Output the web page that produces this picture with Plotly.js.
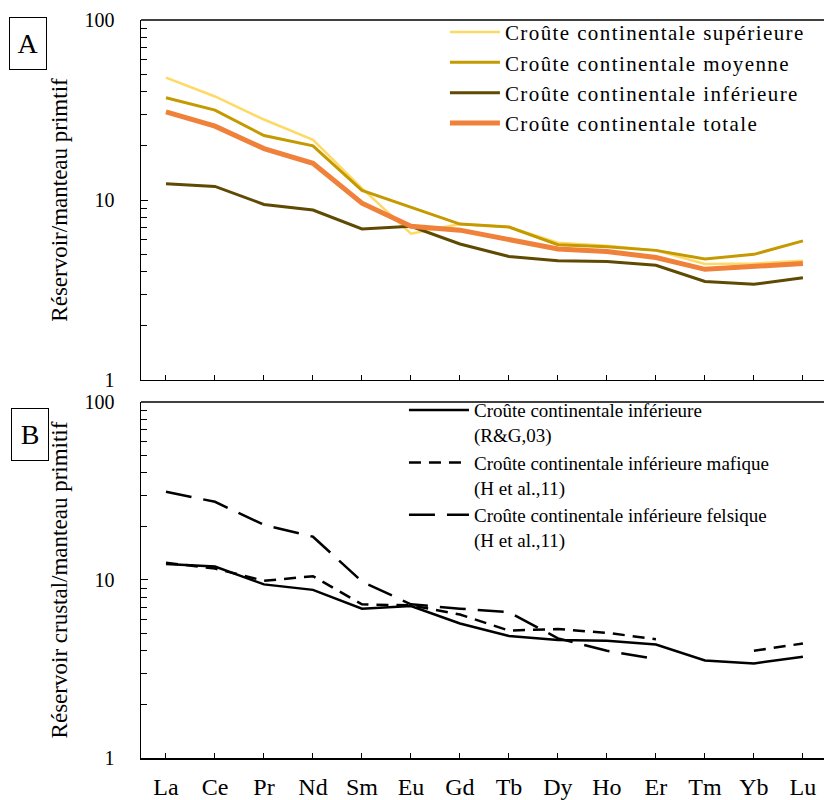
<!DOCTYPE html>
<html>
<head>
<meta charset="utf-8">
<script src="https://cdn.plot.ly/plotly-3.0.1.min.js"></script>
<style>
html,body{margin:0;padding:0;background:#fff;}
.legendtext{letter-spacing:1.4px;}
</style>
</head>
<body>
<div id="chart" style="width:824px;height:800px;"></div>
<script>
// Elements (x categories)
const elements = ["La","Ce","Pr","Nd","Sm","Eu","Gd","Tb","Dy","Ho","Er","Tm","Yb","Lu"];

// Panel A: reservoir / primitive mantle
const upperCrust  = [47.8, 37.6, 28.0, 21.6, 11.6, 6.5, 7.35, 7.07, 5.79, 5.57, 5.25, 4.41, 4.44, 4.59];
const middleCrust = [37.0, 31.6, 22.8, 20.0, 11.3, 9.1, 7.35, 7.07, 5.64, 5.50, 5.25, 4.70, 4.99, 5.93];
const lowerCrust  = [12.3, 11.9, 9.45, 8.8, 6.9, 7.14, 5.70, 4.85, 4.60, 4.56, 4.34, 3.53, 3.40, 3.70];
const bulkCrust   = [30.9, 25.7, 19.3, 16.0, 9.6, 7.14, 6.80, 6.06, 5.34, 5.17, 4.79, 4.12, 4.31, 4.44];

// Panel B: lower crust models
const lowerRG      = [12.3, 11.9, 9.45, 8.8, 6.9, 7.14, 5.70, 4.85, 4.60, 4.56, 4.34, 3.53, 3.40, 3.70];
const lowerMafic   = [12.5, 11.6, 9.9, 10.5, 7.3, 7.2, 6.4, 5.2, 5.3, 5.05, 4.65, null, 4.0, 4.4];
const lowerFelsic  = [31.3, 27.5, 20.4, 17.5, 9.8, 7.3, 6.9, 6.6, 4.7, 4.0, 3.6, null, null, null];

const namesA = ["Croûte continentale supérieure","Croûte continentale moyenne","Croûte continentale inférieure","Croûte continentale totale"];
const namesB = ["Croûte continentale inférieure<br>(R&G,03)","Croûte continentale inférieure mafique<br>(H et al.,11)","Croûte continentale inférieure felsique<br>(H et al.,11)"];

const serif = "Liberation Serif";

const traces = [
  {x: elements, y: upperCrust, name: namesA[0], mode: "lines", line: {color: "#FFD966", width: 2.5}, xaxis: "x", yaxis: "y", legend: "legend", legendgroup: "a1"},
  {x: elements, y: middleCrust, name: namesA[1], mode: "lines", line: {color: "#C49A00", width: 3}, xaxis: "x", yaxis: "y", legend: "legend", legendgroup: "a2"},
  {x: elements, y: lowerCrust, name: namesA[2], mode: "lines", line: {color: "#5E4A03", width: 3}, xaxis: "x", yaxis: "y", legend: "legend", legendgroup: "a3"},
  {x: elements, y: bulkCrust, name: namesA[3], mode: "lines", line: {color: "#F0813A", width: 5}, xaxis: "x", yaxis: "y", legend: "legend", legendgroup: "a4"},
  {x: elements, y: lowerRG, name: namesB[0], mode: "lines", line: {color: "#000", width: 2.5}, xaxis: "x2", yaxis: "y2", legend: "legend2", legendgroup: "b1"},
  {x: elements, y: lowerMafic, name: namesB[1], mode: "lines", line: {color: "#000", width: 2.5, dash: "12px,8px"}, xaxis: "x2", yaxis: "y2", legend: "legend2", legendgroup: "b2", connectgaps: false},
  {x: elements, y: lowerFelsic, name: namesB[2], mode: "lines", line: {color: "#000", width: 2.5, dash: "26px,12px"}, xaxis: "x2", yaxis: "y2", legend: "legend2", legendgroup: "b3", connectgaps: false}
];

const minorVals = [2,3,4,5,6,7,8,9,20,30,40,50,60,70,80,90];

function xAx(anchor, labels) {
  return {
    type: "category", categoryarray: elements, categoryorder: "array",
    range: [-0.51, 13.43], anchor: anchor,
    showline: true, linecolor: "#000", linewidth: 1.5,
    ticks: "inside", ticklen: 5, tickcolor: "#000", tickwidth: 1,
    showgrid: false, zeroline: false, showticklabels: labels,
    tickfont: {family: serif, size: 24, color: "#000"},
    ticklabelstandoff: 7
  };
}
function yAx(domain, anchor, title) {
  return {
    type: "log", range: [0, 2], domain: domain, anchor: anchor,
    tickvals: [1, 10, 100], ticktext: ["1", "10", "100"],
    showline: true, linecolor: "#000", linewidth: 1.5,
    ticks: "inside", ticklen: 7, tickcolor: "#000", tickwidth: 1,
    minor: {ticks: "inside", ticklen: 6, tickvals: minorVals, tickcolor: "#000", tickwidth: 1, showgrid: false},
    showgrid: false, zeroline: false,
    tickfont: {family: serif, size: 20, color: "#000"},
    ticklabelstandoff: 21,
    title: {text: title, font: {family: serif, size: 23, color: "#000"}, standoff: 10}
  };
}

const layout = {
  width: 824, height: 800,
  font: {family: serif, color: "#000"},
  margin: {l: 141, r: 0, t: 20, b: 42},
  paper_bgcolor: "#fff", plot_bgcolor: "#fff",
  xaxis: xAx("y", false),
  xaxis2: xAx("y2", true),
  yaxis: yAx([0.5122, 1], "x", "Réservoir/manteau primtif"),
  yaxis2: yAx([0, 0.4824], "x2", "Réservoir crustal/manteau primitif"),
  showlegend: true,
  legend: {x: 0.445, xanchor: "left", y: 1.011, yanchor: "top", bgcolor: "rgba(0,0,0,0)", itemwidth: 50,
           font: {family: serif, size: 21, color: "#000"}, tracegroupgap: 0, traceorder: "grouped"},
  legend2: {x: 0.385, xanchor: "left", y: 0.497, yanchor: "top", bgcolor: "rgba(0,0,0,0)", itemwidth: 60,
            font: {family: serif, size: 19, color: "#000"}, tracegroupgap: 0, traceorder: "grouped", valign: "top"},
  shapes: [
    {type: "line", xref: "x domain", yref: "y domain", x0: 0, x1: 1, y0: 1, y1: 1, line: {color: "#000", width: 1.5}},
    {type: "line", xref: "x2 domain", yref: "y2 domain", x0: 0, x1: 1, y0: 1, y1: 1, line: {color: "#000", width: 1.5}}
  ],
  annotations: [
    {text: "A", xref: "paper", yref: "paper", x: -0.1654, y: 0.968, xanchor: "center", yanchor: "middle", showarrow: false,
     font: {family: serif, size: 28, color: "#000"}, bordercolor: "#000", borderwidth: 1, width: 34, height: 49, borderpad: 1, bgcolor: "#fff"},
    {text: "B", xref: "paper", yref: "paper", x: -0.1625, y: 0.4383, xanchor: "center", yanchor: "middle", showarrow: false,
     font: {family: serif, size: 28, color: "#000"}, bordercolor: "#000", borderwidth: 1, width: 34, height: 49, borderpad: 1, bgcolor: "#fff"}
  ]
};

Plotly.newPlot("chart", traces, layout, {displayModeBar: false, staticPlot: true});
</script>
</body>
</html>
